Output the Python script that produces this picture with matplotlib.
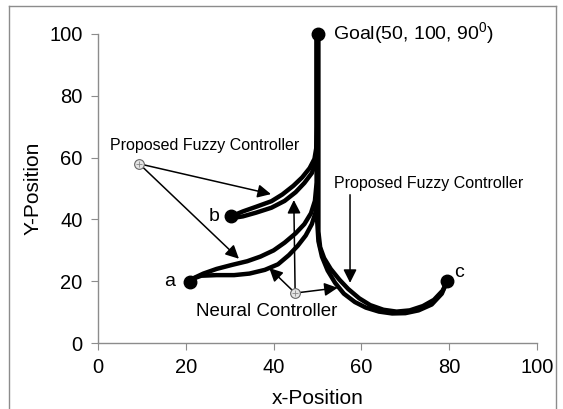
import matplotlib
matplotlib.use("Agg")
import matplotlib.pyplot as plt
from matplotlib.lines import Line2D

plt.rcParams["font.family"] = ["Liberation Sans", "DejaVu Sans"]
plt.rcParams["mathtext.fontset"] = "custom"
plt.rcParams["mathtext.rm"] = "Liberation Sans"

# robot trajectories (x, y) towards the goal, read per start point
b_fuzzy_x = [30.3, 33.0, 36.0, 39.5, 42.0, 44.5, 46.5, 48.2, 49.3, 49.7, 49.8, 49.8]
b_fuzzy_y = [41.0, 42.6, 44.1, 45.9, 48.1, 50.9, 53.6, 56.6, 59.6, 63.0, 70.0, 100.0]
b_neural_x = [30.3, 33.0, 36.0, 39.5, 42.5, 45.0, 47.0, 48.7, 49.6, 50.0, 50.0]
b_neural_y = [40.4, 41.0, 42.2, 43.8, 46.0, 48.8, 51.8, 55.0, 58.5, 62.0, 100.0]

a_fuzzy_x = [21.0, 24.0, 27.0, 30.5, 34.0, 37.0, 40.0, 42.5, 45.0, 47.0, 48.5, 49.4, 49.8, 49.8]
a_fuzzy_y = [20.5, 22.5, 24.0, 25.3, 26.5, 28.0, 30.0, 32.5, 35.5, 38.5, 42.0, 46.0, 52.0, 100.0]
a_neural_x = [21.0, 23.5, 27.0, 31.0, 34.5, 38.0, 41.0, 43.5, 45.5, 47.3, 48.7, 49.6, 50.0, 50.0]
a_neural_y = [20.5, 21.8, 22.0, 22.0, 22.5, 23.7, 25.5, 28.5, 31.5, 34.8, 38.5, 42.5, 48.0, 100.0]

c_fuzzy_x = [79.5, 78.5, 76.5, 74.0, 71.0, 68.0, 65.0, 62.0, 59.5, 57.0, 55.0, 53.0, 51.5, 50.6, 50.2, 50.2]
c_fuzzy_y = [20.0, 17.0, 14.0, 12.0, 10.6, 10.2, 10.8, 12.3, 14.5, 17.5, 20.5, 24.0, 27.5, 31.0, 36.0, 100.0]
c_neural_x = [79.5, 78.3, 76.0, 73.0, 70.0, 67.0, 64.0, 61.0, 58.5, 56.0, 54.0, 52.3, 51.0, 50.2, 49.9, 49.9]
c_neural_y = [20.0, 16.0, 12.5, 10.6, 9.7, 9.6, 10.2, 11.5, 13.3, 16.0, 19.5, 23.5, 28.0, 33.0, 40.0, 100.0]

# start points and goal
point_names = ["a", "b", "c"]
point_x = [21.0, 30.3, 79.5]
point_y = [19.8, 41.0, 20.0]
goal_x, goal_y = 50, 100

# callout anchors and arrow tips
fuzzy_src = (9.4, 58.0)
fuzzy_tips = [(39.4, 48.2), (32.1, 27.3)]
fuzzy_c_from = (57.4, 48.0)
fuzzy_c_tip = (57.4, 19.5)
neural_src = (44.9, 16.2)
neural_tips = [(39.0, 24.3), (44.6, 46.3), (54.6, 17.9)]

fig = plt.figure(figsize=(5.63, 4.09), dpi=100)
ax = fig.add_axes((0.174, 0.161, 0.780, 0.756))

# thin grey frame round the whole chart area (bottom edge is cut off)
for xs, ys in [([9, 9], [0, 403]), ([9, 556], [403, 403]), ([556, 556], [403, 0])]:
    fig.add_artist(Line2D([x / 563 for x in xs], [y / 409 for y in ys],
                          color="#8c8c8c", lw=1.0, transform=fig.transFigure))

line_kw = dict(color="black", lw=3.2, solid_capstyle="round", solid_joinstyle="round",
               clip_on=False)
for xs, ys in [(b_fuzzy_x, b_fuzzy_y), (b_neural_x, b_neural_y),
               (a_fuzzy_x, a_fuzzy_y), (a_neural_x, a_neural_y),
               (c_fuzzy_x, c_fuzzy_y), (c_neural_x, c_neural_y)]:
    ax.plot(xs, ys, **line_kw)

ax.plot(point_x, point_y, "o", color="black", ms=9, clip_on=False)
ax.plot([goal_x], [goal_y], "o", color="black", ms=9, clip_on=False)

ax.text(point_x[0] - 3.5, point_y[0], point_names[0], ha="right", va="center", fontsize=14)
ax.text(point_x[1] - 2.5, point_y[1], point_names[1], ha="right", va="center", fontsize=14)
ax.text(point_x[2] + 1.5, point_y[2] + 3.0, point_names[2], ha="left", va="center", fontsize=14)
ax.text(goal_x + 3.5, goal_y, "Goal(50, 100, 90$^0$)", ha="left", va="center", fontsize=14)

arrow = dict(arrowstyle="-|>", color="black", lw=1.1, mutation_scale=20, shrinkA=0, shrinkB=0)
for tip in fuzzy_tips:
    ax.annotate("", xy=tip, xytext=fuzzy_src, arrowprops=arrow)
ax.annotate("", xy=fuzzy_c_tip, xytext=fuzzy_c_from, arrowprops=arrow)
for tip in neural_tips:
    ax.annotate("", xy=tip, xytext=neural_src, arrowprops=arrow)

for src in [fuzzy_src, neural_src]:
    ax.plot(*src, "o", ms=7, mfc="#e4e4e4", mec="#666666", mew=0.8, zorder=5)
    ax.plot(*src, "+", ms=5, color="#888888", mew=0.6, zorder=6)

ax.text(24.4, 64.0, "Proposed Fuzzy Controller", ha="center", va="center", fontsize=11.5)
ax.text(53.8, 51.5, "Proposed Fuzzy Controller", ha="left", va="center", fontsize=11.5)
ax.text(38.5, 10.2, "Neural Controller", ha="center", va="center", fontsize=13.5)

ax.set_xlim(0, 100)
ax.set_ylim(0, 100)
ax.set_xticks(range(0, 101, 20))
ax.set_yticks(range(0, 101, 20))
ax.set_xlabel("x-Position", fontsize=15, labelpad=8)
ax.set_ylabel("Y-Position", fontsize=15, labelpad=5)
for side in ["top", "right"]:
    ax.spines[side].set_visible(False)
for side in ["left", "bottom"]:
    ax.spines[side].set_color("#8c8c8c")
    ax.spines[side].set_linewidth(1.0)
ax.tick_params(direction="out", length=5, color="#8c8c8c", labelsize=14.5, pad=6)

fig.savefig("out.png", dpi=100)
